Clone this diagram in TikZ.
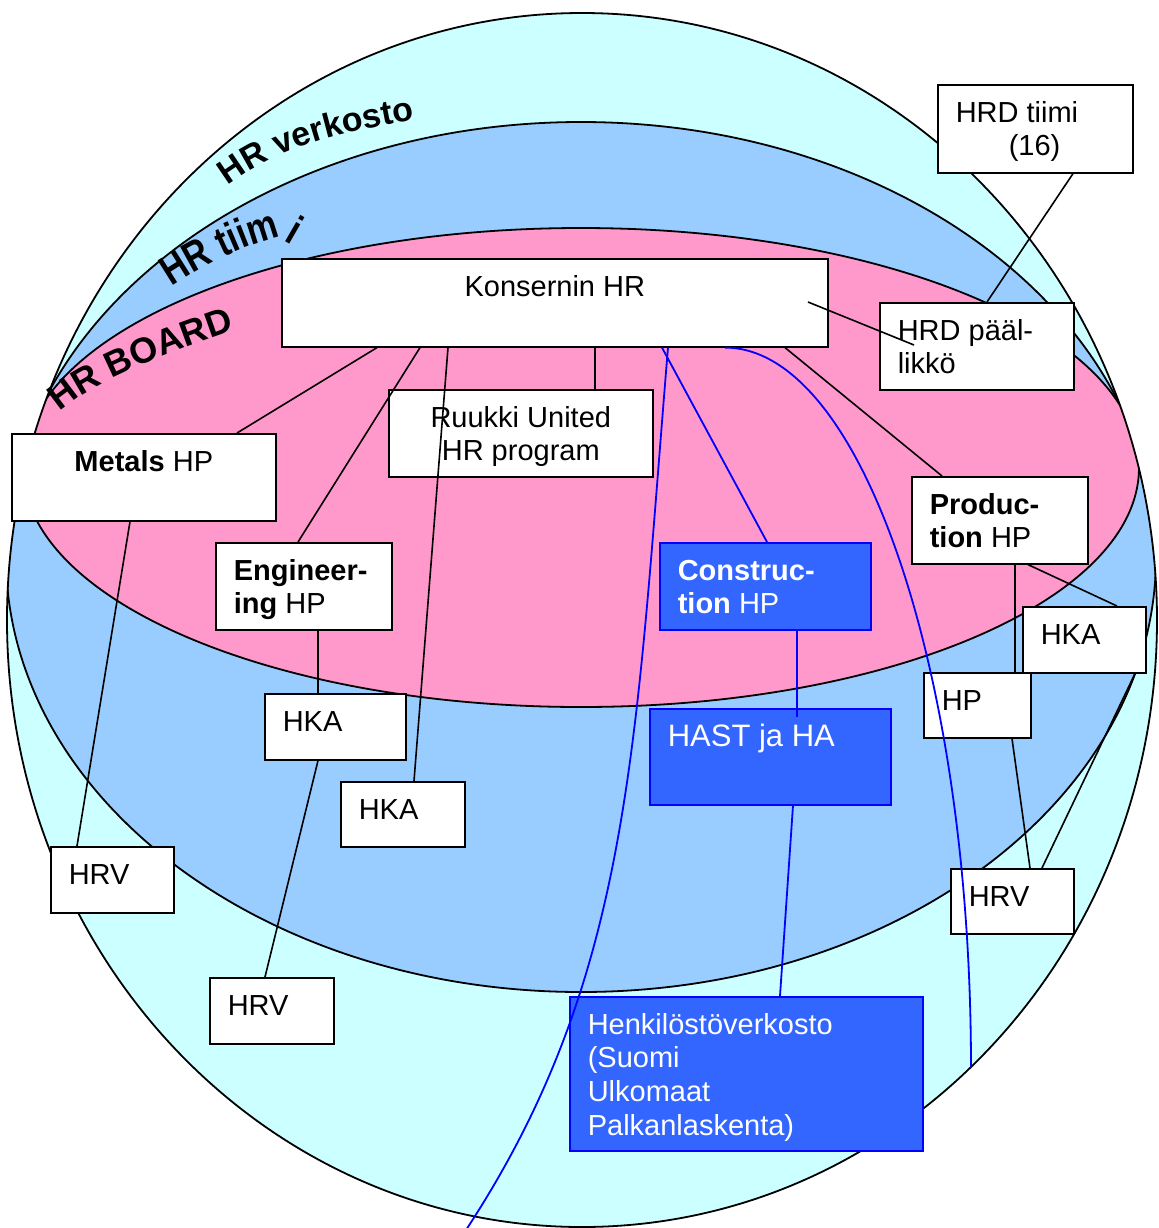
\documentclass[tikz,border=0pt]{standalone}
\usepackage{fontspec}
\setmainfont{Liberation Sans}
\newfontfamily\artfont[FakeStretch=0.82]{Liberation Sans}
\usetikzlibrary{calc,decorations.text}
\definecolor{spherefill}{HTML}{CCFFFF}
\definecolor{teamfill}{HTML}{99CCFF}
\definecolor{boardfill}{HTML}{FF99CC}
\definecolor{unitfill}{HTML}{3366FF}
\definecolor{linkblue}{HTML}{0000FF}
\newlength\px
\setlength\px{0.5pt}
% fixed-size text cell: width, height (in px units), alignment, text
\newcommand\cellbox[4]{\begin{minipage}[t][#2\px][t]{#1\px}#3\rule{0pt}{18.7pt}#4\end{minipage}}
\newcommand\lft{\raggedright\leftskip=9pt\relax}
\newcommand\ctr{\centering}
\begin{document}
\begin{tikzpicture}[x=0.5pt,y=-0.5pt,
  shellline/.style={draw=black,line width=0.9pt},
  cellnode/.style={draw=black,line width=0.8pt,fill=white,inner sep=0pt,anchor=north west,
    font=\fontsize{14.5}{16.85}\selectfont},
  unitnode/.style={cellnode,fill=unitfill,draw=linkblue,text=white},
  connector/.style={draw=black,line width=0.8pt},
  blueconnector/.style={draw=linkblue,line width=0.9pt},
  arclabel/.style={decorate,decoration={text along path,text align=left}}
]
\useasboundingbox (0,0) rectangle (1159,1228);

% the sphere and its two inner layers
\path[fill=spherefill] (582,620) ellipse[x radius=575,y radius=607];
\begin{scope}
  \clip (582,620) ellipse[x radius=575,y radius=607];
  \draw[shellline,fill=teamfill] (581,557) ellipse[x radius=575,y radius=435];
  \draw[shellline,fill=boardfill] (581,467.5) ellipse[x radius=558,y radius=239.5];
\end{scope}
\draw[shellline] (582,620) ellipse[x radius=575,y radius=607];

% layer names along the arcs
\path[arclabel,decoration={text={|\bfseries\fontsize{17}{17}\selectfont|HR verkosto}}]
  (228,186) .. controls (290,140) and (350,132) .. (422,118);
\path[arclabel,decoration={text={|\artfont\bfseries\fontsize{21}{21}\selectfont|HR tiim}}]
  (172,287) .. controls (208,263) and (253,240) .. (300,232);
\node[font=\artfont\bfseries\fontsize{21}{21}\selectfont,rotate=-30,anchor=base west,inner sep=0pt]
  (tiimlast) at (283,240) {i};
\path[arclabel,decoration={text={|\bfseries\fontsize{18}{18}\selectfont|HR BOARD}}]
  (60,412) .. controls (97,378) and (180,349) .. (240,328);

% boxes
\node[cellnode] (tiimi) at (937,84) {\cellbox{195}{88}{\lft}{HRD tiimi\\\hspace*{26.5pt}(16)}};
\node[cellnode] (kons) at (281,258) {\cellbox{546}{88}{\ctr}{Konsernin HR}};
\node[cellnode] (paal) at (879,302) {\cellbox{194}{87}{\lft}{HRD pääl-\\likkö}};
\node[cellnode] (ruukki) at (388,389) {\cellbox{264}{87}{\ctr}{Ruukki United\\HR program}};
\node[cellnode] (metals) at (11,433) {\cellbox{264}{87}{\ctr}{\textbf{Metals} HP}};
\node[cellnode] (eng) at (215,542) {\cellbox{176}{87}{\lft}{\textbf{Engineer-}\\\textbf{ing} HP}};
\node[unitnode] (constr) at (659,542) {\cellbox{211}{87}{\lft}{\textbf{Construc-}\\\textbf{tion} HP}};
\node[cellnode] (prod) at (911,476) {\cellbox{176}{87}{\lft}{\textbf{Produc-}\\\textbf{tion} HP}};
\node[cellnode] (hkaR) at (1022,606) {\cellbox{123}{66}{\lft}{HKA}};
\node[cellnode] (hpR) at (923,672) {\cellbox{107}{65}{\lft}{HP}};
\node[cellnode] (hkaE) at (264,693) {\cellbox{141}{66}{\lft}{HKA}};
\node[cellnode] (hkaM) at (340,781) {\cellbox{124}{65}{\lft}{HKA}};
\node[unitnode,font=\fontsize{15.5}{18}\selectfont] (hast) at (649,708) {\cellbox{241}{96}{\lft}{HAST ja HA}};
\node[cellnode] (hrvL) at (50,846) {\cellbox{123}{66}{\lft}{HRV}};
\node[cellnode] (hrvR) at (950,868) {\cellbox{123}{65}{\lft}{HRV}};
\node[cellnode] (hrvB) at (209,977) {\cellbox{124}{66}{\lft}{HRV}};
\node[unitnode] (henk) at (569,996) {\cellbox{353}{154}{\lft}{Henkilöstöverkosto\\(Suomi\\Ulkomaat\\Palkanlaskenta)}};

% connectors
\draw[connector] ($(tiimi.south west)+(136,0)$) -- ($(paal.north west)+(108,0)$);
\draw[connector] ($(kons.north west)+(527,44)$) -- ($(paal.north west)+(35,43)$);
\draw[connector] ($(kons.south west)+(96,0)$) -- ($(metals.north west)+(226,0)$);
\draw[connector] ($(kons.south west)+(139,0)$) -- ($(eng.north west)+(83,0)$);
\draw[connector] ($(kons.south west)+(167,0)$) -- ($(hkaM.north west)+(74,0)$);
\draw[connector] ($(kons.south west)+(314,0)$) -- ($(ruukki.north west)+(207,0)$);
\draw[connector] ($(kons.south west)+(504,0)$) -- ($(prod.north west)+(31,0)$);
\draw[blueconnector] ($(kons.south west)+(381,0)$) -- ($(constr.north west)+(108,0)$);
\draw[connector] ($(eng.south west)+(103,0)$) -- ($(hkaE.north west)+(54,0)$);
\draw[connector] ($(hkaE.south west)+(54,0)$) -- ($(hrvB.north west)+(56,0)$);
\draw[connector] ($(metals.south west)+(119,0)$) -- ($(hrvL.north west)+(27,0)$);
\draw[blueconnector] ($(constr.south west)+(138,0)$) -- ($(hast.north west)+(148,9)$);
\draw[blueconnector] ($(hast.south west)+(144,0)$) -- ($(henk.north west)+(211,0)$);
\draw[connector] ($(prod.south west)+(104,0)$) -- ($(hpR.north west)+(92,0)$);
\draw[connector] ($(prod.south west)+(117,0)$) -- ($(hkaR.north west)+(95,0)$);
\draw[connector] ($(hpR.south west)+(89,0)$) -- ($(hrvR.north west)+(80,0)$);
\draw[connector] ($(hkaR.south west)+(113,0)$) -- ($(hrvR.north west)+(92,0)$);

% meridians of the sphere
\coordinate (m1end) at (466,1230);
\draw[blueconnector] ($(kons.south west)+(387,0)$) .. controls (635,747) and (632,977) .. (m1end);
\draw[blueconnector] ($(kons.south west)+(444,0)$)
  arc[start angle=270,end angle=360,x radius=246,y radius=720] coordinate (m2end);
\end{tikzpicture}
\end{document}
